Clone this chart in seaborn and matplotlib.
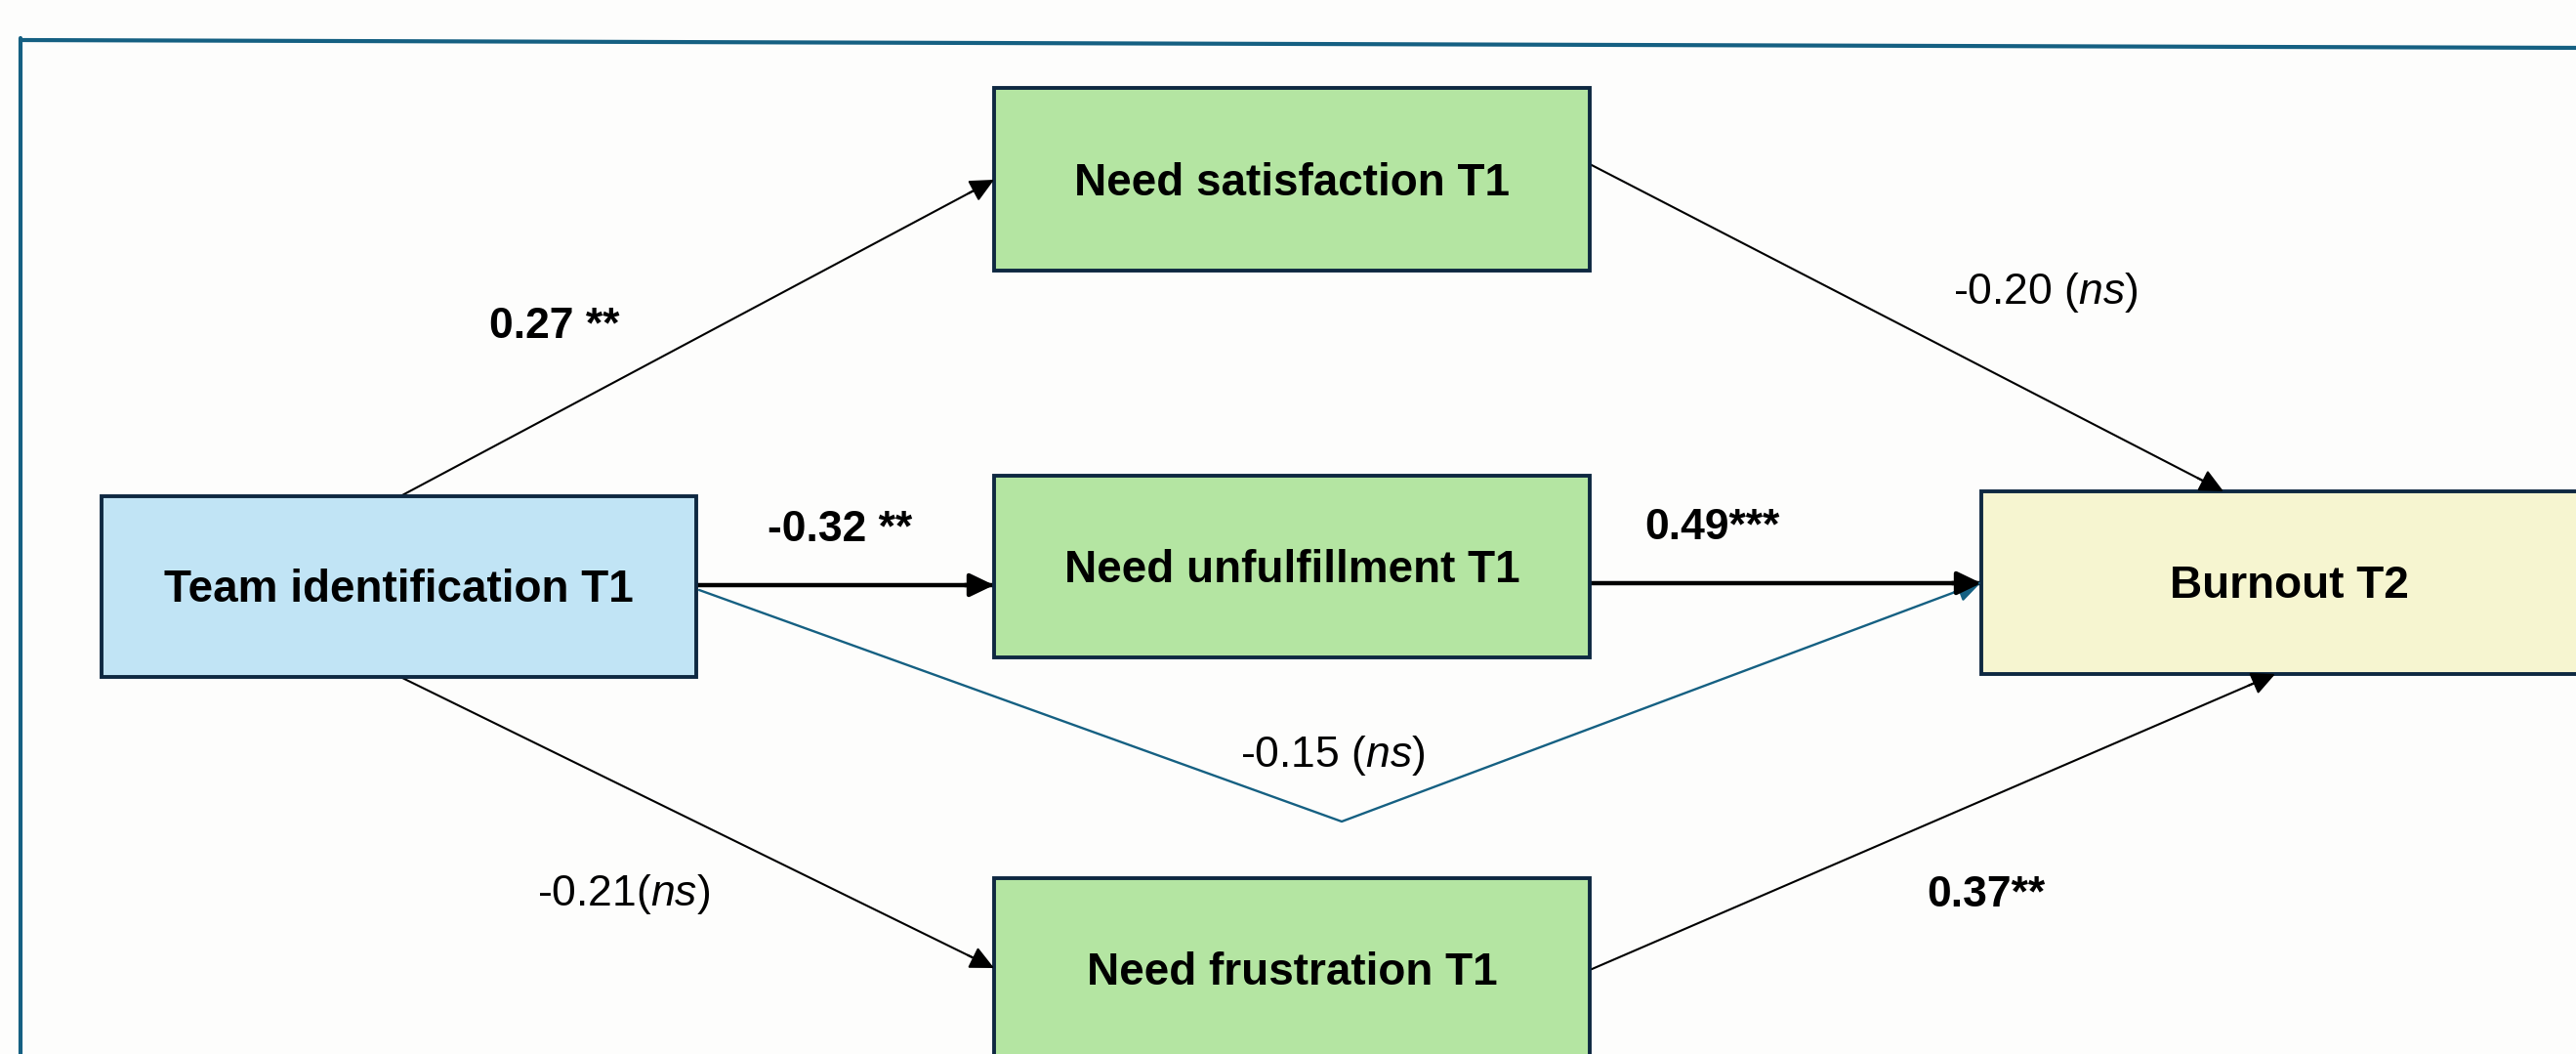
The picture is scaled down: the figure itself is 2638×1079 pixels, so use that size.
import numpy as np
import pandas as pd
import matplotlib
matplotlib.use("Agg")
import matplotlib.pyplot as plt
from matplotlib.patches import Rectangle
import seaborn as sns

# model variables
nodes = ["Team identification T1", "Need satisfaction T1", "Need unfulfillment T1",
         "Need frustration T1", "Burnout T2"]
node_colors = ["#c1e4f5", "#b4e5a2", "#b4e5a2", "#b4e5a2", "#f6f5d0"]

# paths: source, target, coefficient label, significant?
path_from = ["Team identification T1", "Team identification T1", "Team identification T1",
             "Team identification T1", "Need satisfaction T1", "Need unfulfillment T1",
             "Need frustration T1"]
path_to = ["Need satisfaction T1", "Need unfulfillment T1", "Burnout T2",
           "Need frustration T1", "Burnout T2", "Burnout T2", "Burnout T2"]
path_labels = ["0.27 **", "-0.32 **", r"-0.15 ($\mathit{ns}$)", r"-0.21($\mathit{ns}$)",
               r"-0.20 ($\mathit{ns}$)", "0.49***", "0.37**"]
path_bold = [True, True, False, False, False, True, True]

# layout in pixels (x0, y0, x1, y1)
boxes = {
    "Team identification T1": (104, 508, 713, 693),
    "Need satisfaction T1": (1018, 90, 1628, 277),
    "Need unfulfillment T1": (1018, 487, 1628, 673),
    "Need frustration T1": (1018, 899, 1628, 1086),
    "Burnout T2": (2029, 503, 2660, 690),
}
routes = [
    [(410, 508), (1018, 184)],
    [(713, 599), (1018, 599)],
    [(716, 604), (1374, 841), (2029, 596)],
    [(410, 693), (1018, 991)],
    [(1628, 168), (2277, 503)],
    [(1628, 597), (2029, 597)],
    [(1628, 993), (2330, 690)],
]
label_pos = [(568, 335), (860, 543), (1365, 773), (639, 915), (2095, 299), (1753, 540), (2034, 916)]
route_color = ["black", "black", "#156082", "black", "black", "black", "black"]
route_width = [1.5, 3.2, 1.7, 1.5, 1.5, 3.2, 1.5]

sns.set_theme(style="white")
plt.rcParams["font.family"] = ["Liberation Sans", "DejaVu Sans"]
plt.rcParams["mathtext.fontset"] = "custom"
plt.rcParams["mathtext.rm"] = "Liberation Sans"
plt.rcParams["mathtext.it"] = "Liberation Sans:italic"

fig = plt.figure(figsize=(26.38, 10.79), dpi=100)
fig.patch.set_facecolor("#fdfdfc")
ax = fig.add_axes([0, 0, 1, 1])
ax.set_facecolor("#fdfdfc")

# outer frame
frame = "#156082"
sns.lineplot(x=[21, 2645], y=[41, 49], sort=False, estimator=None, color=frame, linewidth=3, ax=ax)
sns.lineplot(x=[21, 21], y=[39, 1090], sort=False, estimator=None, color=frame, linewidth=3, ax=ax)

# paths
for pts, col, lw in zip(routes, route_color, route_width):
    xs = [p[0] for p in pts]
    ys = [p[1] for p in pts]
    sns.lineplot(x=xs, y=ys, sort=False, estimator=None, color=col, linewidth=lw, ax=ax)
    (x0, y0), (x1, y1) = pts[-2], pts[-1]
    d = np.hypot(x1 - x0, y1 - y0)
    back = (x1 - (x1 - x0) / d * 30, y1 - (y1 - y0) / d * 30)
    ax.annotate("", xy=(x1, y1), xytext=back,
                arrowprops=dict(arrowstyle="-|>,head_length=0.5,head_width=0.24",
                                color=col, lw=lw, mutation_scale=30,
                                shrinkA=0, shrinkB=0), zorder=4)

# boxes
for name, col in zip(nodes, node_colors):
    x0, y0, x1, y1 = boxes[name]
    ax.add_patch(Rectangle((x0, y0), x1 - x0, y1 - y0, facecolor=col,
                           edgecolor="#0e2841", linewidth=2.8, zorder=3))
    ax.text((x0 + x1) / 2, (y0 + y1) / 2 + 4, name, ha="center", va="center",
            fontsize=33, fontweight="bold", color="black", zorder=5)

# coefficients
for lab, bold, (x, y) in zip(path_labels, path_bold, label_pos):
    ax.text(x, y, lab, ha="center", va="center", fontsize=32,
            fontweight="bold" if bold else "normal", color="black", zorder=5)

ax.set_xlim(0, 2638)
ax.set_ylim(1079, 0)
ax.axis("off")

plt.savefig("out.png", dpi=100, facecolor=fig.get_facecolor())
print("saved out.png")
